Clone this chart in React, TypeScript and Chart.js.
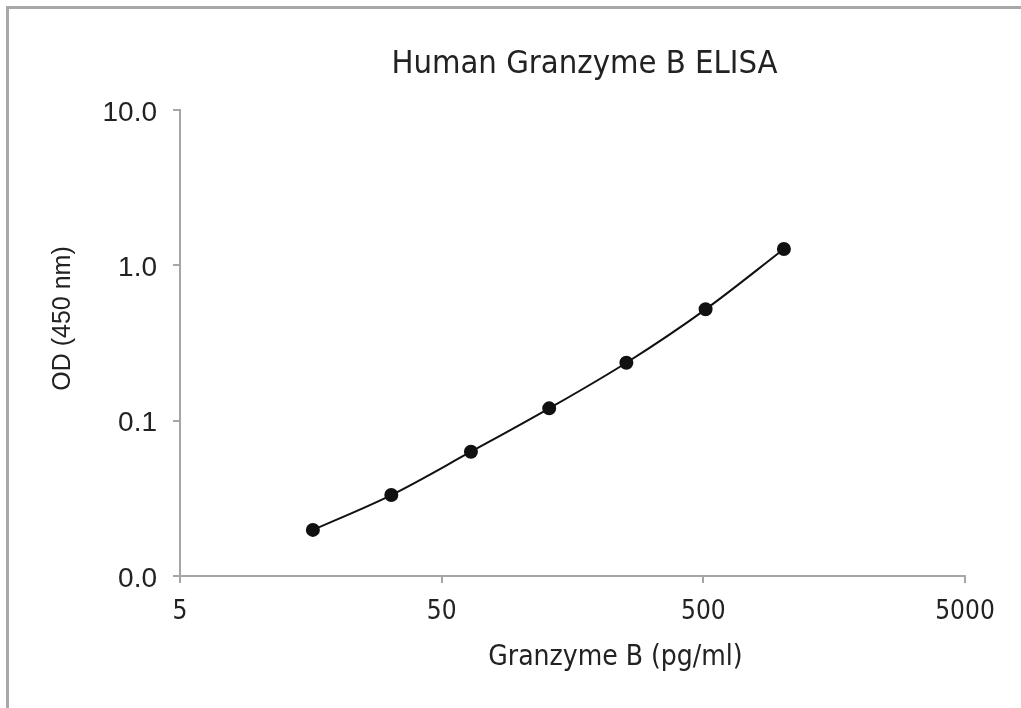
import React, { useEffect, useRef } from 'react';
import { Chart, registerables } from 'chart.js';

Chart.register(...registerables);

const concentrations = [16.1, 32.1, 64.7, 128.8, 254, 510, 1016];
const odValues = [0.0198, 0.0332, 0.0631, 0.12, 0.236, 0.521, 1.274];
const xTickValues = [5, 50, 500, 5000];
const xTickLabels = ['5', '50', '500', '5000'];
const yTickValues = [0.01, 0.1, 1, 10];
const yTickLabels = ['0.0', '0.1', '1.0', '10.0'];
const chartTitle = 'Human Granzyme B ELISA';
const xAxisTitle = 'Granzyme B (pg/ml)';
const yAxisTitle = 'OD (450 nm)';

const AXIS_COLOR = '#a6a6a6';
const TEXT_COLOR = '#222222';
const CONDENSED = '"DejaVu Sans Condensed", "DejaVu Sans", sans-serif';
const ARIAL = '"Liberation Sans", Arial, sans-serif';

const titlesPlugin = {
  id: 'customTitles',
  afterDraw(chart: any) {
    const { ctx, chartArea } = chart;
    const cx = (chartArea.left + chartArea.right) / 2;
    const cy = (chartArea.top + chartArea.bottom) / 2;
    ctx.save();
    ctx.fillStyle = TEXT_COLOR;
    ctx.textAlign = 'center';
    ctx.textBaseline = 'alphabetic';
    ctx.font = `32.5px ${CONDENSED}`;
    ctx.fillText(chartTitle, cx + 12, chartArea.top - 37);
    ctx.font = `28px ${CONDENSED}`;
    ctx.fillText(xAxisTitle, cx + 43, chartArea.bottom + 89);
    ctx.translate(chartArea.left - 116.5, cy - 24.5);
    ctx.rotate(-Math.PI / 2);
    ctx.textBaseline = 'middle';
    ctx.font = `25px ${ARIAL}`;
    ctx.fillText(yAxisTitle, 0, 0);
    ctx.restore();
  },
};

export default function App() {
  const canvasRef = useRef<HTMLCanvasElement | null>(null);

  useEffect(() => {
    if (!canvasRef.current) return;
    const chart = new Chart(canvasRef.current, {
      type: 'scatter',
      data: {
        datasets: [
          {
            label: 'Standard curve',
            data: concentrations.map((c, i) => ({ x: c, y: odValues[i] })),
            showLine: true,
            borderColor: '#111111',
            backgroundColor: '#111111',
            borderWidth: 2,
            pointRadius: 6,
            pointHoverRadius: 6,
            pointBackgroundColor: '#111111',
            pointBorderColor: '#111111',
            cubicInterpolationMode: 'monotone',
          },
        ],
      },
      options: {
        animation: false,
        responsive: false,
        maintainAspectRatio: false,
        layout: { padding: { left: 40, right: 56, top: 110, bottom: 20 } },
        plugins: {
          legend: { display: false },
          tooltip: { enabled: false },
          title: { display: false },
        },
        scales: {
          x: {
            type: 'logarithmic',
            min: 5,
            max: 5000,
            afterBuildTicks: (scale: any) => {
              scale.ticks = xTickValues.map((v) => ({ value: v }));
            },
            afterFit: (scale: any) => {
              scale.height = 112;
            },
            ticks: {
              autoSkip: false,
              maxRotation: 0,
              padding: 14,
              color: TEXT_COLOR,
              font: { family: CONDENSED, size: 26 },
              callback: (v: any) => {
                const i = xTickValues.indexOf(Number(v));
                return i >= 0 ? xTickLabels[i] : '';
              },
            },
            grid: {
              drawOnChartArea: false,
              drawTicks: true,
              tickLength: 7,
              color: AXIS_COLOR,
              lineWidth: 2,
            },
            border: { display: true, color: AXIS_COLOR, width: 2 },
          },
          y: {
            type: 'logarithmic',
            min: 0.01,
            max: 10,
            afterBuildTicks: (scale: any) => {
              scale.ticks = yTickValues.map((v) => ({ value: v }));
            },
            afterFit: (scale: any) => {
              scale.width = 140;
            },
            ticks: {
              autoSkip: false,
              padding: 16,
              labelOffset: 3,
              color: TEXT_COLOR,
              font: { family: ARIAL, size: 28 },
              callback: (v: any) => {
                const i = yTickValues.findIndex((t) => Math.abs(t - Number(v)) < 1e-9);
                return i >= 0 ? yTickLabels[i] : '';
              },
            },
            grid: {
              drawOnChartArea: false,
              drawTicks: true,
              tickLength: 7,
              color: AXIS_COLOR,
              lineWidth: 2,
            },
            border: { display: true, color: AXIS_COLOR, width: 2 },
          },
        },
      },
      plugins: [titlesPlugin],
    });
    return () => chart.destroy();
  }, []);

  return (
    <div style={{ position: 'fixed', left: 0, top: 0, width: 1021, height: 708, background: '#ffffff' }}>
      <div
        style={{
          position: 'absolute',
          left: 6,
          top: 6,
          right: 0,
          bottom: 0,
          borderTop: '3px solid #a8a8a8',
          borderLeft: '3px solid #a8a8a8',
        }}
      />
      <canvas ref={canvasRef} width={1021} height={708} style={{ position: 'absolute', left: 0, top: 0 }} />
    </div>
  );
}
